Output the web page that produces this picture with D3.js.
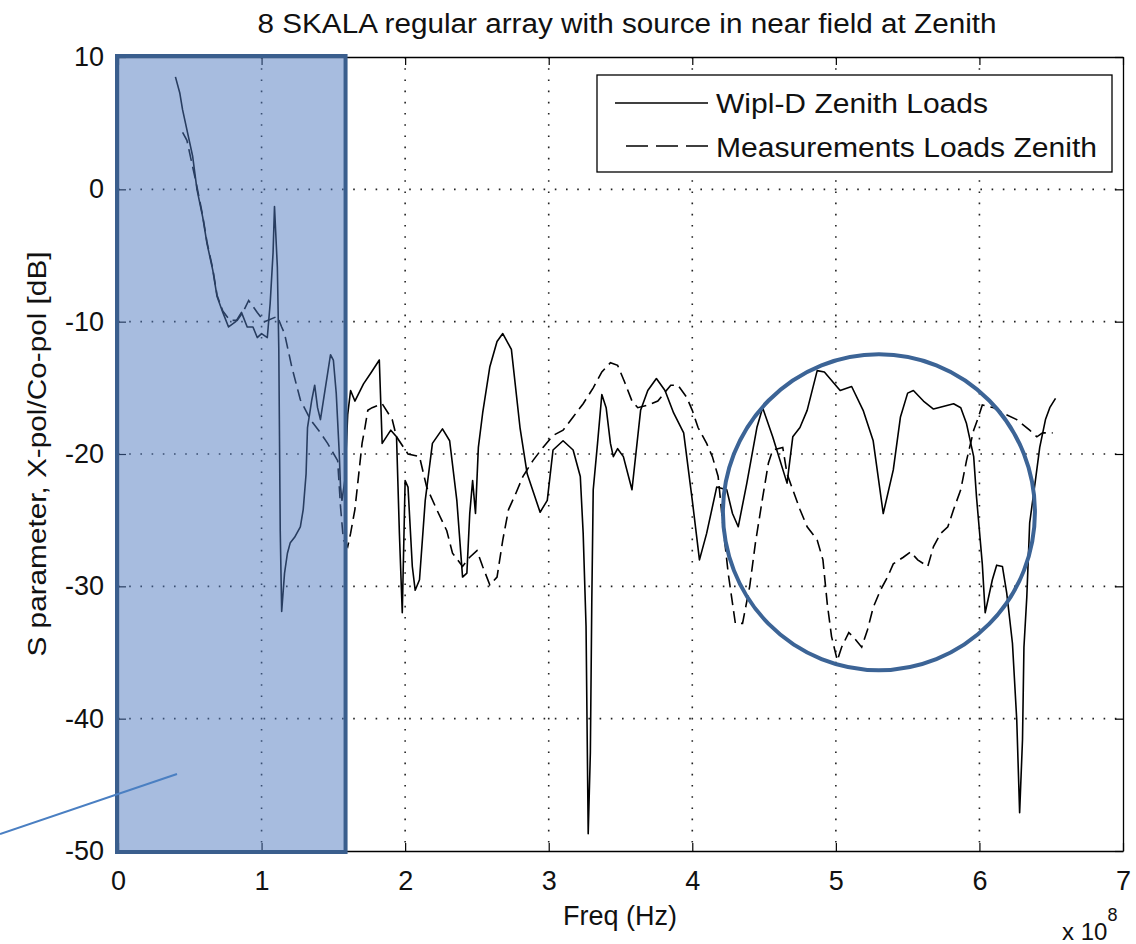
<!DOCTYPE html>
<html>
<head>
<meta charset="utf-8">
<script src="https://cdn.jsdelivr.net/npm/d3@7"></script>
<style>
  html, body { margin: 0; padding: 0; background: #ffffff; }
  svg { display: block; font-family: "Liberation Sans", Arial, Helvetica, sans-serif; }
</style>
</head>
<body>
<svg id="chart" width="1136" height="944"></svg>
<script>
// Frequency in units of 1e8 Hz, ratio in dB
const wiplFreq = [0.40,0.43,0.45,0.49,0.52,0.55,0.59,0.62,0.66,0.69,0.73,0.77,0.82,0.86,0.90,0.94,0.97,1.00,1.04,1.06,
  1.08,1.09,1.11,1.12,1.13,1.14,1.16,1.18,1.20,1.23,1.27,1.29,1.31,1.32,1.35,1.37,1.39,1.41,1.43,1.46,
  1.48,1.50,1.52,1.54,1.55,1.56,1.58,1.60,1.62,1.65,1.71,1.76,1.82,1.84,1.90,1.94,1.96,1.98,2.00,2.02,
  2.05,2.07,2.10,2.14,2.19,2.26,2.31,2.36,2.40,2.43,2.45,2.47,2.49,2.51,2.54,2.59,2.64,2.68,2.74,2.80,
  2.85,2.94,2.99,3.03,3.10,3.17,3.22,3.24,3.26,3.27,3.275,3.29,3.30,3.31,3.34,3.37,3.40,3.43,3.45,3.48,
  3.52,3.58,3.64,3.69,3.75,3.81,3.87,3.94,4.00,4.05,4.10,4.17,4.24,4.28,4.32,4.38,4.45,4.49,4.56,4.66,
  4.70,4.75,4.80,4.87,4.92,5.03,5.11,5.19,5.26,5.33,5.40,5.45,5.50,5.54,5.61,5.68,5.82,5.87,5.91,5.96,
  5.98,6.02,6.04,6.09,6.12,6.16,6.19,6.23,6.26,6.28,6.30,6.31,6.33,6.35,6.39,6.42,6.46,6.49,6.53];
const wiplDb = [8.5,7.3,6.0,4.0,2.5,0.0,-2.1,-4.1,-6.1,-8.1,-9.3,-10.4,-10.0,-9.3,-10.4,-10.4,-11.2,-10.9,-11.2,-8.6,
  -4.8,-1.3,-5.9,-12.1,-25.8,-31.9,-29.0,-27.5,-26.7,-26.3,-25.5,-24.2,-21.5,-18.0,-15.9,-14.8,-16.5,-17.4,-16.0,-13.9,
  -12.5,-12.9,-15.4,-19.7,-22.5,-23.5,-22.0,-17.0,-15.2,-16.0,-14.7,-13.9,-12.9,-19.2,-18.2,-18.7,-26.0,-32.0,-22.0,-22.5,
  -28.5,-30.3,-29.5,-23.5,-19.2,-18.1,-19.0,-23.5,-29.3,-29.0,-24.5,-22.0,-24.5,-19.5,-16.9,-13.4,-11.5,-10.9,-12.1,-18.0,
  -21.5,-24.4,-23.5,-19.7,-19.0,-19.7,-21.7,-26.0,-33.0,-43.5,-48.7,-42.6,-31.2,-22.7,-19.2,-15.5,-16.5,-19.2,-20.2,-19.6,
  -20.2,-22.7,-16.7,-15.2,-14.3,-15.2,-16.9,-18.4,-23.5,-28.0,-26.0,-22.5,-22.7,-24.5,-25.5,-22.2,-18.0,-16.5,-18.7,-22.2,
  -18.7,-18.0,-16.7,-13.7,-13.8,-15.2,-14.9,-16.7,-19.0,-24.5,-21.2,-17.2,-15.4,-15.2,-16.0,-16.6,-16.2,-16.5,-17.7,-20.2,
  -23.3,-28.3,-32.0,-29.5,-28.4,-28.5,-30.5,-34.3,-40.1,-47.1,-41.6,-34.6,-30.8,-25.2,-22.0,-19.5,-17.4,-16.5,-15.8];

const measFreq = [0.45,0.48,0.50,0.55,0.59,0.62,0.66,0.69,0.73,0.78,0.83,0.87,0.91,0.97,1.02,1.11,1.14,1.16,1.21,1.27,
  1.34,1.41,1.46,1.53,1.55,1.57,1.60,1.62,1.65,1.67,1.70,1.72,1.74,1.77,1.84,1.91,1.94,2.02,2.10,2.15,
  2.22,2.29,2.33,2.40,2.45,2.50,2.54,2.59,2.64,2.68,2.72,2.77,2.82,2.89,2.96,3.03,3.10,3.17,3.24,3.31,
  3.37,3.43,3.48,3.53,3.58,3.62,3.69,3.76,3.85,3.90,3.96,4.00,4.04,4.10,4.14,4.18,4.21,4.25,4.30,4.35,
  4.40,4.44,4.49,4.53,4.56,4.63,4.66,4.70,4.75,4.80,4.87,4.91,4.94,4.97,5.01,5.04,5.09,5.12,5.18,5.22,
  5.26,5.31,5.36,5.40,5.47,5.52,5.57,5.64,5.68,5.73,5.78,5.82,5.87,5.91,5.96,5.99,6.02,6.10,6.18,6.26,
  6.35,6.40,6.44,6.51];
const measDb = [4.3,3.7,2.7,0.2,-2.0,-4.0,-6.0,-8.0,-9.2,-9.9,-9.9,-9.3,-8.4,-9.3,-10.0,-9.6,-10.4,-10.9,-13.4,-15.9,
  -17.4,-18.4,-19.2,-20.5,-24.0,-26.5,-27.0,-26.0,-24.2,-22.2,-19.2,-18.0,-16.7,-16.5,-16.2,-17.4,-18.7,-20.0,-20.2,-22.5,
  -24.2,-25.8,-27.5,-28.5,-27.8,-27.3,-28.5,-29.9,-29.3,-26.5,-24.2,-23.0,-21.7,-20.5,-19.5,-18.6,-18.2,-17.2,-16.2,-15.0,
  -13.8,-13.1,-13.3,-14.6,-16.0,-16.5,-16.3,-16.0,-14.8,-14.8,-15.7,-16.7,-18.0,-19.2,-20.2,-21.7,-25.0,-29.0,-32.8,-32.8,
  -30.0,-26.7,-23.3,-20.7,-19.7,-19.5,-21.5,-22.7,-24.2,-25.5,-26.5,-28.0,-31.3,-33.8,-35.6,-34.6,-33.5,-33.8,-34.6,-33.3,
  -31.6,-30.3,-29.3,-28.3,-27.8,-27.4,-28.0,-28.5,-27.0,-26.0,-25.5,-24.2,-22.7,-20.5,-18.2,-17.3,-16.3,-16.5,-17.0,-17.4,
  -18.2,-18.7,-18.4,-18.4];

const xTicks = [0,1,2,3,4,5,6,7];
const yTicks = [-50,-40,-30,-20,-10,0,10];
const seriesNames = ["Wipl-D Zenith Loads", "Measurements Loads Zenith"];
const titleText = "8 SKALA regular array with source in near field at Zenith";
const xLabel = "Freq (Hz)";
const yLabel = "S parameter, X-pol/Co-pol [dB]";

// Highlighted low-frequency band and the ring around the upper band (data units)
const bandRange = [0, 1.585];
const ringCenter = [5.3, -24.4];

const svg = d3.select("#chart");
const FS = 27;
const x = d3.scaleLinear().domain([0, 7]).range([118, 1123]);
const y = d3.scaleLinear().domain([-50, 10]).range([851, 57]);
const plainNum = d => String(d);   // ASCII hyphen for negatives

// Dotted grid
const grid = svg.append("g").attr("stroke", "#222").attr("stroke-width", 1.6)
  .attr("stroke-dasharray", "1.6,9.6").attr("stroke-linecap", "butt");
xTicks.slice(1, -1).forEach(t => grid.append("line")
  .attr("x1", x(t)).attr("x2", x(t)).attr("y1", y(10)).attr("y2", y(-50)));
yTicks.slice(1, -1).forEach(t => grid.append("line")
  .attr("x1", x(0)).attr("x2", x(7)).attr("y1", y(t)).attr("y2", y(t)));

// Curves
const line = d3.line().x(d => x(d[0])).y(d => y(d[1]));
const wipl = wiplFreq.map((f, i) => [f, wiplDb[i]]);
const meas = measFreq.map((f, i) => [f, measDb[i]]);
svg.append("path").datum(wipl).attr("d", line)
  .attr("fill", "none").attr("stroke", "#000").attr("stroke-width", 1.6).attr("stroke-linejoin", "round");
svg.append("path").datum(meas).attr("d", line)
  .attr("fill", "none").attr("stroke", "#000").attr("stroke-width", 1.6)
  .attr("stroke-dasharray", "12,6");

// Axes with inward ticks on all four sides
function styleAxis(g) {
  g.selectAll("path.domain").attr("stroke", "#000").attr("stroke-width", 1.3);
  g.selectAll(".tick line").attr("stroke", "#000").attr("stroke-width", 1.2);
  g.selectAll("text").attr("font-size", FS).attr("font-family", "\"Liberation Sans\", Arial, sans-serif").attr("fill", "#111");
}
svg.append("g").attr("transform", `translate(0,${y(-50)})`)
  .call(d3.axisBottom(x).tickValues(xTicks).tickSize(-8).tickSizeOuter(0).tickPadding(20).tickFormat(plainNum))
  .call(styleAxis);
svg.append("g").attr("transform", `translate(0,${y(10)})`)
  .call(d3.axisTop(x).tickValues(xTicks).tickSize(-8).tickSizeOuter(0).tickFormat(""))
  .call(styleAxis);
svg.append("g").attr("transform", `translate(${x(0)},0)`)
  .call(d3.axisLeft(y).tickValues(yTicks).tickSize(-8).tickSizeOuter(0).tickPadding(14).tickFormat(plainNum))
  .call(styleAxis);
svg.append("g").attr("transform", `translate(${x(7)},0)`)
  .call(d3.axisRight(y).tickValues(yTicks).tickSize(-8).tickSizeOuter(0).tickFormat(""))
  .call(styleAxis);

// Titles
svg.append("text").attr("x", 627).attr("y", 33).attr("text-anchor", "middle")
  .attr("font-size", FS).attr("fill", "#111")
  .attr("textLength", 739).attr("lengthAdjust", "spacingAndGlyphs").text(titleText);
svg.append("text").attr("x", 620).attr("y", 925).attr("text-anchor", "middle")
  .attr("font-size", FS).attr("fill", "#111").text(xLabel);
const expo = svg.append("text").attr("x", 1062).attr("y", 940).attr("font-size", FS - 3).attr("fill", "#111");
expo.append("tspan").text("x 10");
expo.append("tspan").attr("dy", -19).attr("font-size", FS - 9).text("8");
svg.append("text").attr("transform", `translate(46,${(y(10) + y(-50)) / 2}) rotate(-90)`)
  .attr("text-anchor", "middle").attr("font-size", FS - 2).attr("fill", "#111")
  .attr("textLength", 405).attr("lengthAdjust", "spacingAndGlyphs").text(yLabel);

// Legend
const lg = svg.append("g");
lg.append("rect").attr("x", 597).attr("y", 75).attr("width", 515).attr("height", 97)
  .attr("fill", "#fff").attr("stroke", "#000").attr("stroke-width", 1.3);
lg.append("line").attr("x1", 615).attr("x2", 708).attr("y1", 103).attr("y2", 103)
  .attr("stroke", "#000").attr("stroke-width", 1.6);
lg.append("line").attr("x1", 626).attr("x2", 708).attr("y1", 146).attr("y2", 146)
  .attr("stroke", "#000").attr("stroke-width", 1.6).attr("stroke-dasharray", "22,8");
lg.append("text").attr("x", 716).attr("y", 113).attr("font-size", FS).attr("fill", "#111")
  .attr("textLength", 272).attr("lengthAdjust", "spacingAndGlyphs").text(seriesNames[0]);
lg.append("text").attr("x", 716).attr("y", 157).attr("font-size", FS).attr("fill", "#111")
  .attr("textLength", 381).attr("lengthAdjust", "spacingAndGlyphs").text(seriesNames[1]);

// Highlight band over the low-frequency part
svg.append("rect")
  .attr("x", x(bandRange[0]) - 1).attr("y", y(10) - 1)
  .attr("width", x(bandRange[1]) - x(bandRange[0]) + 1).attr("height", y(-50) - y(10) + 2)
  .attr("fill", "rgb(79,122,192)").attr("fill-opacity", 0.5)
  .attr("stroke", "#3a5e8d").attr("stroke-width", 4);

// Ring around the 5e8 region
svg.append("ellipse").attr("cx", x(ringCenter[0])).attr("cy", y(ringCenter[1]))
  .attr("rx", 156).attr("ry", 158)
  .attr("fill", "none").attr("stroke", "#3c6496").attr("stroke-width", 4);

// Pointer line into the band
svg.append("line").attr("x1", 0).attr("y1", 834).attr("x2", 177).attr("y2", 774)
  .attr("stroke", "#4a7fc2").attr("stroke-width", 2);
</script>
</body>
</html>
